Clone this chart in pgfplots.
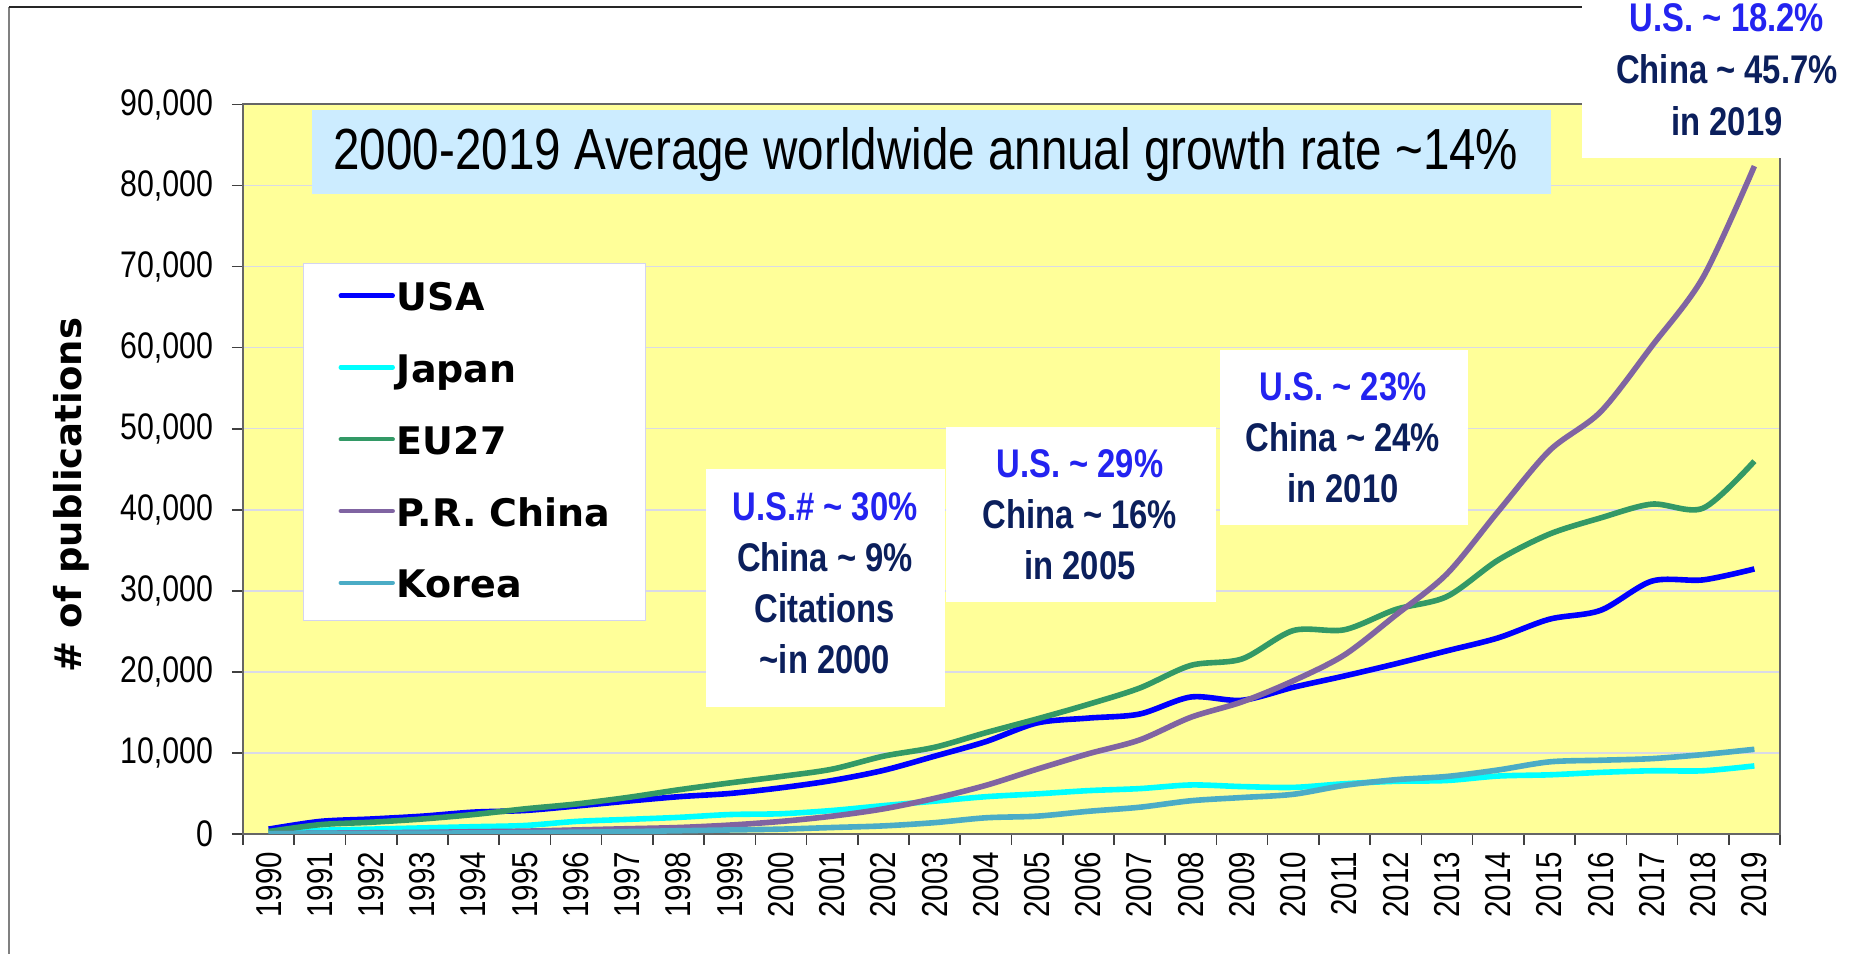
\documentclass[border=0pt]{standalone}
\usepackage{pgfplots}
\usepackage{pgfplotstable}
\pgfplotsset{compat=1.18}
\usepackage{fontspec}
\setmainfont{Liberation Sans}
\newfontfamily\narrow[FakeStretch=0.82]{Liberation Sans}
\newfontfamily\dejab{DejaVu Sans}
\definecolor{usa}{HTML}{0000FF}
\definecolor{jpn}{HTML}{00FFFF}
\definecolor{eu}{HTML}{339966}
\definecolor{chn}{HTML}{8064A2}
\definecolor{kor}{HTML}{4BACC6}
\definecolor{plotbg}{HTML}{FFFF99}
\definecolor{gridc}{HTML}{DADAE6}
\definecolor{titlebg}{HTML}{CCECFF}
\definecolor{annblue}{HTML}{2323F0}
\definecolor{navy}{HTML}{0B1F5C}
\definecolor{legbord}{HTML}{D4D4F0}

\pgfplotstableread{
i  usa    jpn   eu     chn    kor
0  600    100   300    50     30
1  1550   450   1150   100    60
2  1850   600   1450   150    80
3  2200   750   1850   200    100
4  2700   900   2400   280    130
5  2900   1050  3100   350    160
6  3450   1550  3700   500    220
7  4050   1800  4500   650    300
8  4600   2050  5450   800    400
9  5000   2400  6300   1100   500
10 5700   2500  7100   1550   600
11 6600   2900  8000   2200   800
12 7850   3500  9600   3100   1000
13 9600   4050  10700  4400   1400
14 11400  4600  12500  6000   2000
15 13700  4950  14200  8000   2200
16 14300  5350  16000  9900   2800
17 14800  5600  18000  11600  3300
18 16900  6050  20800  14400  4100
19 16500  5850  21600  16300  4500
20 18100  5750  25100  18900  4900
21 19500  6200  25200  22100  6000
22 21000  6500  27700  27000  6700
23 22600  6600  29300  32100  7100
24 24200  7150  33800  39800  7900
25 26500  7300  37000  47300  8900
26 27600  7600  39000  52100  9100
27 31200  7800  40700  60200  9300
28 31350  7800  40200  68700  9800
29 32700  8400  46000  82400  10450
}\data

\begin{document}
\begin{tikzpicture}[x=0.5pt,y=0.5pt]
\path[use as bounding box] (0,0) rectangle (1862,953);
% outer frame
\draw[gray, line width=1.2pt] (9,-5) -- (9,946);
\draw[black!85, line width=0.8pt] (9,946) -- (1870,946);

\begin{axis}[
  at={(121.5pt,59.5pt)}, anchor=south west,
  scale only axis, width=768.5pt, height=364.75pt,
  xmin=-0.5, xmax=29.5, ymin=0, ymax=90000,
  axis background/.style={fill=plotbg},
  xtick={-0.5,0.5,...,29.5},
  x tick label as interval,
  xticklabels={1990,1991,1992,1993,1994,1995,1996,1997,1998,1999,2000,2001,2002,2003,2004,2005,2006,2007,2008,2009,2010,2011,2012,2013,2014,2015,2016,2017,2018,2019},
  ytick={0,10000,...,90000},
  scaled y ticks=false,
  ymajorgrids, grid style={gridc, line width=0.75pt},
  tick align=outside, major tick length=5.5pt,
  xtick pos=bottom, ytick pos=left,
  tick style={color=black!75, line width=0.8pt},
  axis line style={draw=black!60, line width=1pt},
  /pgf/number format/assume math mode=true,
  yticklabel style={font=\narrow\fontsize{18.5}{20}\selectfont, xshift=-6pt, /pgf/number format/fixed, /pgf/number format/1000 sep={,}},
  xticklabel style={font=\narrow\fontsize{18}{20}\selectfont, rotate=90, anchor=east},
  ylabel={\# of publications},
  every axis y label/.style={at={(axis description cs:-0.1119,0.4647)}, rotate=90, anchor=center, font=\dejab\bfseries\fontsize{18.5}{22}\selectfont},
  legend style={at={(0.039,0.7827)}, anchor=north west,
    draw=legbord, fill=white, line width=0.6pt,
    inner xsep=17.5pt, inner ysep=9.5pt,
    row sep=19.9pt, column sep=1pt,
    font=\dejab\bfseries\fontsize{19}{22}\selectfont,
    nodes={inner sep=0pt, text height=14pt, text depth=2pt}},
  legend cell align=left,
  legend image code/.code={\draw[#1, line width=2.2pt, line cap=round] (0pt,1.5pt) -- (26pt,1.5pt);},
]
\addplot[usa, line width=2.8pt, smooth, tension=0.5, mark=none] table[x=i, y=usa] {\data};
\addlegendentry{USA}
\addplot[jpn, line width=2.8pt, smooth, tension=0.5, mark=none] table[x=i, y=jpn] {\data};
\addlegendentry{Japan}
\addplot[eu, line width=2.8pt, smooth, tension=0.5, mark=none] table[x=i, y=eu] {\data};
\addlegendentry{EU27}
\addplot[chn, line width=2.8pt, smooth, tension=0.5, mark=none] table[x=i, y=chn] {\data};
\addlegendentry{P.R. China}
\addplot[kor, line width=2.8pt, smooth, tension=0.5, mark=none] table[x=i, y=kor] {\data};
\addlegendentry{Korea}
\end{axis}

% title box
\fill[titlebg] (312,759) rectangle (1551,843);
\node[anchor=base, inner sep=0pt, font=\narrow\fontsize{29}{34}\selectfont] at (926,783) {2000-2019 Average worldwide annual growth rate \textasciitilde14\%};

% annotation boxes
\tikzset{ann/.style={align=center, inner sep=0pt, text=navy, font=\narrow\bfseries\fontsize{20}{25.5}\selectfont}}
\fill[white] (706,246) rectangle (945,484);
\node[ann] at (825,369.5) {\textcolor{annblue}{U.S.\# \textasciitilde{} 30\%}\\China \textasciitilde{} 9\%\\Citations\\\textasciitilde in 2000};
\fill[white] (946,351) rectangle (1216,526);
\node[ann] at (1080,438) {\textcolor{annblue}{U.S. \textasciitilde{} 29\%}\\China \textasciitilde{} 16\%\\in 2005};
\fill[white] (1220,428) rectangle (1468,603);
\node[ann] at (1343,515) {\textcolor{annblue}{U.S. \textasciitilde{} 23\%}\\China \textasciitilde{} 24\%\\in 2010};
\fill[white] (1582,795) rectangle (1870,960);
\node[ann, font=\narrow\bfseries\fontsize{20}{26}\selectfont] at (1727,883) {\textcolor{annblue}{U.S. \textasciitilde{} 18.2\%}\\China \textasciitilde{} 45.7\%\\in 2019};
\end{tikzpicture}
\end{document}
